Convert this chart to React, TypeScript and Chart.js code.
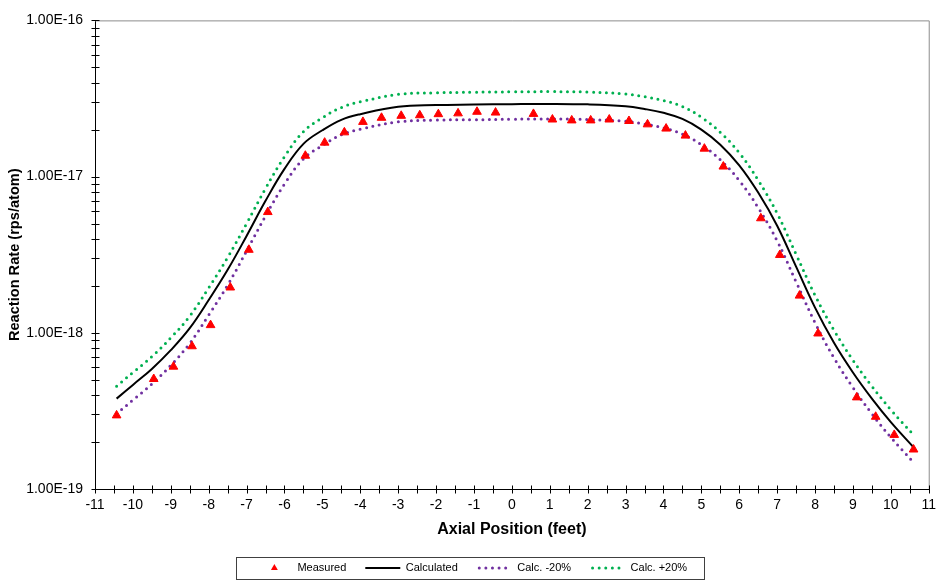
import { useEffect, useRef } from 'react';
import { Chart, registerables } from 'chart.js';

Chart.register(...registerables);

// ---- data ----
const MEASURED_X = [-10.43, -9.45, -8.93, -8.44, -7.95, -7.43, -6.94, -6.44, -5.45, -4.94, -4.42, -3.93, -3.44, -2.92, -2.43, -1.94, -1.42, -0.92, -0.43, 0.57, 1.07, 1.58, 2.08, 2.57, 3.09, 3.58, 4.07, 4.58, 5.08, 5.58, 6.57, 7.07, 7.59, 8.08, 9.1, 9.6, 10.09, 10.6];
const MEASURED_Y = [2.96e-19, 5.06e-19, 6.07e-19, 8.2e-19, 1.12e-18, 1.95e-18, 3.4e-18, 5.93e-18, 1.36e-17, 1.65e-17, 1.92e-17, 2.24e-17, 2.38e-17, 2.45e-17, 2.47e-17, 2.51e-17, 2.54e-17, 2.6e-17, 2.57e-17, 2.52e-17, 2.32e-17, 2.29e-17, 2.29e-17, 2.32e-17, 2.27e-17, 2.16e-17, 2.03e-17, 1.83e-17, 1.51e-17, 1.16e-17, 5.41e-18, 3.15e-18, 1.73e-18, 9.9e-19, 3.86e-19, 2.9e-19, 2.22e-19, 1.79e-19];

const CALC_X = [-10.43, -10, -9.5, -9, -8.5, -8, -7.5, -7, -6.5, -6, -5.5, -5, -4.5, -4, -3, -2, -1, 0, 1, 2, 3, 3.5, 4, 4.5, 5, 5.5, 6, 6.5, 7, 7.5, 8, 8.5, 9, 9.5, 10, 10.6];
const CALC_Y = [3.79e-19, 4.64e-19, 5.87e-19, 7.74e-19, 1.07e-18, 1.62e-18, 2.53e-18, 4.17e-18, 7.0e-18, 1.12e-17, 1.62e-17, 1.98e-17, 2.31e-17, 2.51e-17, 2.8e-17, 2.87e-17, 2.89e-17, 2.91e-17, 2.92e-17, 2.9e-17, 2.82e-17, 2.71e-17, 2.56e-17, 2.34e-17, 2.0e-17, 1.6e-17, 1.18e-17, 7.9e-18, 4.85e-18, 2.65e-18, 1.45e-18, 8.63e-19, 5.57e-19, 3.79e-19, 2.68e-19, 1.85e-19];
const MINUS20_Y = [3.03e-19, 3.71e-19, 4.7e-19, 6.19e-19, 8.56e-19, 1.3e-18, 2.02e-18, 3.34e-18, 5.6e-18, 8.96e-18, 1.3e-17, 1.58e-17, 1.85e-17, 2.01e-17, 2.24e-17, 2.3e-17, 2.31e-17, 2.33e-17, 2.34e-17, 2.32e-17, 2.26e-17, 2.17e-17, 2.05e-17, 1.87e-17, 1.6e-17, 1.28e-17, 9.44e-18, 6.32e-18, 3.88e-18, 2.12e-18, 1.16e-18, 6.9e-19, 4.46e-19, 3.03e-19, 2.14e-19, 1.48e-19];
const PLUS20_Y = [4.55e-19, 5.57e-19, 7.04e-19, 9.29e-19, 1.28e-18, 1.94e-18, 3.04e-18, 5.0e-18, 8.4e-18, 1.34e-17, 1.94e-17, 2.38e-17, 2.77e-17, 3.01e-17, 3.36e-17, 3.44e-17, 3.47e-17, 3.49e-17, 3.5e-17, 3.48e-17, 3.38e-17, 3.25e-17, 3.07e-17, 2.81e-17, 2.4e-17, 1.92e-17, 1.42e-17, 9.48e-18, 5.82e-18, 3.18e-18, 1.74e-18, 1.04e-18, 6.68e-19, 4.55e-19, 3.22e-19, 2.22e-19];

const SERIES_NAMES = ['Measured', 'Calculated', 'Calc. -20%', 'Calc. +20%'];
const SERIES_COLORS = ['#ff0000', '#000000', '#7030a0', '#00b050'];

const X_TICK_VALUES = [-11, -10.5, -10, -9.5, -9, -8.5, -8, -7.5, -7, -6.5, -6, -5.5, -5, -4.5, -4, -3.5, -3, -2.5, -2, -1.5, -1, -0.5, 0, 0.5, 1, 1.5, 2, 2.5, 3, 3.5, 4, 4.5, 5, 5.5, 6, 6.5, 7, 7.5, 8, 8.5, 9, 9.5, 10, 10.5, 11];
const X_TICK_LABELS = ['-11', '-10', '-9', '-8', '-7', '-6', '-5', '-4', '-3', '-2', '-1', '0', '1', '2', '3', '4', '5', '6', '7', '8', '9', '10', '11'];
const Y_DECADES = [1e-19, 1e-18, 1e-17, 1e-16];
const Y_TICK_LABELS = ['1.00E-19', '1.00E-18', '1.00E-17', '1.00E-16'];
const Y_MINOR_MULTIPLIERS = [2, 3, 4, 5, 6, 7, 8, 9];

const SANS = "'Liberation Sans', Arial, sans-serif";

function pts(xs: number[], ys: number[]) {
  return xs.map((x, i) => ({ x, y: ys[i] }));
}

export default function App() {
  const ref = useRef<HTMLCanvasElement>(null);

  useEffect(() => {
    const canvas = ref.current;
    if (!canvas) return;

    const framePlugin = {
      id: 'frame',
      beforeDatasetsDraw(chart: any) {
        const { ctx, chartArea } = chart;
        ctx.save();
        ctx.strokeStyle = '#8c8c8c';
        ctx.lineWidth = 1;
        ctx.beginPath();
        ctx.moveTo(chartArea.left, chartArea.top + 0.5);
        ctx.lineTo(chartArea.right + 0.5, chartArea.top + 0.5);
        ctx.lineTo(chartArea.right + 0.5, chartArea.bottom);
        ctx.stroke();
        ctx.restore();
      },
      afterDraw(chart: any) {
        const { ctx, chartArea } = chart;
        const xs = chart.scales.x;
        const ys = chart.scales.y;
        ctx.save();
        ctx.strokeStyle = '#000';
        ctx.lineWidth = 1;
        ctx.beginPath();
        const ax = Math.round(chartArea.left) + 0.5;
        ys.ticks.forEach((t: any) => {
          const py = Math.round(ys.getPixelForValue(t.value)) + 0.5;
          ctx.moveTo(ax - 4, py);
          ctx.lineTo(ax + 4, py);
        });
        const ay = Math.round(chartArea.bottom) + 0.5;
        xs.ticks.forEach((t: any) => {
          const px = Math.round(xs.getPixelForValue(t.value)) + 0.5;
          ctx.moveTo(px, ay - 4);
          ctx.lineTo(px, ay + 4);
        });
        ctx.stroke();

        // legend symbols + border
        const lg = chart.legend;
        if (lg && lg.legendHitBoxes && lg.legendHitBoxes.length) {
          const hb = lg.legendHitBoxes;
          const symW = 35;
          hb.forEach((b: any, i: number) => {
            const cy = b.top + b.height / 2;
            const color = SERIES_COLORS[i];
            if (i === 0) {
              const cx = b.left + symW / 2;
              const r = 4;
              ctx.fillStyle = color;
              ctx.beginPath();
              ctx.moveTo(cx, cy - r);
              ctx.lineTo(cx + r * 0.866, cy + r * 0.5);
              ctx.lineTo(cx - r * 0.866, cy + r * 0.5);
              ctx.closePath();
              ctx.fill();
            } else if (i === 1) {
              ctx.strokeStyle = color;
              ctx.lineWidth = 2;
              ctx.setLineDash([]);
              ctx.beginPath();
              ctx.moveTo(b.left, cy);
              ctx.lineTo(b.left + symW, cy);
              ctx.stroke();
            } else {
              ctx.strokeStyle = color;
              ctx.lineWidth = 3;
              ctx.lineCap = 'round';
              ctx.setLineDash([0, 6.6]);
              ctx.beginPath();
              ctx.moveTo(b.left + 2.5, cy);
              ctx.lineTo(b.left + symW, cy);
              ctx.stroke();
              ctx.setLineDash([]);
              ctx.lineCap = 'butt';
            }
          });
          const first = hb[0];
          const last = hb[hb.length - 1];
          const cy = first.top + first.height / 2;
          const x0 = Math.round(first.left - 21) + 0.5;
          const x1 = Math.round(last.left + last.width + 17) + 0.5;
          const y0 = Math.round(cy - 11) + 0.5;
          const y1 = Math.round(cy + 11) + 0.5;
          ctx.strokeStyle = '#404040';
          ctx.lineWidth = 1;
          ctx.strokeRect(x0, y0, x1 - x0, y1 - y0);
        }
        ctx.restore();
      },
    };

    const chart = new Chart(canvas, {
      type: 'line',
      data: {
        datasets: [
          {
            label: SERIES_NAMES[0],
            data: pts(MEASURED_X, MEASURED_Y),
            showLine: false,
            pointStyle: 'triangle',
            pointRadius: 5,
            pointHoverRadius: 5,
            backgroundColor: SERIES_COLORS[0],
            borderColor: SERIES_COLORS[0],
            borderWidth: 1,
          },
          {
            label: SERIES_NAMES[1],
            data: pts(CALC_X, CALC_Y),
            borderColor: SERIES_COLORS[1],
            backgroundColor: SERIES_COLORS[1],
            borderWidth: 2,
            pointRadius: 0,
            tension: 0.4,
          },
          {
            label: SERIES_NAMES[2],
            data: pts(CALC_X, MINUS20_Y),
            borderColor: SERIES_COLORS[2],
            backgroundColor: SERIES_COLORS[2],
            borderWidth: 3,
            borderDash: [0, 6.5],
            borderCapStyle: 'round',
            pointRadius: 0,
            tension: 0.4,
          },
          {
            label: SERIES_NAMES[3],
            data: pts(CALC_X, PLUS20_Y),
            borderColor: SERIES_COLORS[3],
            backgroundColor: SERIES_COLORS[3],
            borderWidth: 3,
            borderDash: [0, 6.5],
            borderCapStyle: 'round',
            pointRadius: 0,
            tension: 0.4,
          },
        ],
      },
      options: {
        responsive: false,
        animation: false,
        devicePixelRatio: 1,
        layout: { padding: { top: 13, right: 11, bottom: -2.5, left: 11 } },
        plugins: {
          tooltip: { enabled: false },
          legend: {
            position: 'bottom',
            labels: {
              usePointStyle: false,
              boxWidth: 35,
              boxHeight: 5,
              padding: 19,
              color: '#000',
              font: { family: SANS, size: 11 },
              generateLabels: (ch: any) =>
                Chart.defaults.plugins.legend.labels.generateLabels(ch).map((it: any) => ({
                  ...it,
                  fillStyle: 'rgba(0,0,0,0)',
                  strokeStyle: 'rgba(0,0,0,0)',
                  lineWidth: 0,
                })),
            },
          },
        },
        scales: {
          x: {
            type: 'linear',
            min: -11,
            max: 11,
            afterBuildTicks: (scale: any) => {
              scale.ticks = X_TICK_VALUES.map((v) => ({ value: v }));
            },
            afterFit: (scale: any) => {
              scale.height = 54.5;
            },
            ticks: {
              autoSkip: false,
              maxRotation: 0,
              minRotation: 0,
              padding: 8,
              color: '#000',
              font: { family: SANS, size: 14 },
              callback: (value: any) => {
                const idx = Number(value) + 11;
                return Number.isInteger(Number(value)) ? X_TICK_LABELS[idx] : '';
              },
            },
            grid: { display: false, drawTicks: false },
            border: { display: true, color: '#000', width: 1 },
            title: {
              display: true,
              text: 'Axial Position (feet)',
              color: '#000',
              font: { family: SANS, size: 16, weight: 'bold' },
              padding: { top: 0, bottom: 4 },
            },
          },
          y: {
            type: 'logarithmic',
            min: 1e-19,
            max: 1e-16,
            afterBuildTicks: (scale: any) => {
              const t: any[] = [];
              Y_DECADES.forEach((d, i) => {
                t.push({ value: d, major: true });
                if (i < Y_DECADES.length - 1) {
                  Y_MINOR_MULTIPLIERS.forEach((m) => t.push({ value: d * m, major: false }));
                }
              });
              scale.ticks = t;
            },
            afterFit: (scale: any) => {
              scale.width = 84;
            },
            ticks: {
              autoSkip: false,
              padding: 12,
              color: '#000',
              font: { family: SANS, size: 14 },
              callback: (value: any) => {
                const v = Number(value);
                const i = Y_DECADES.findIndex((d) => Math.abs(v / d - 1) < 1e-6);
                return i >= 0 ? Y_TICK_LABELS[i] : '';
              },
            },
            grid: { display: false, drawTicks: false },
            border: { display: true, color: '#000', width: 1 },
            title: {
              display: true,
              text: 'Reaction Rate (rps/atom)',
              color: '#000',
              font: { family: SANS, size: 14.6, weight: 'bold' },
              padding: { top: -4.8, bottom: 0 },
            },
          },
        },
      },
      plugins: [framePlugin],
    } as any);

    return () => chart.destroy();
  }, []);

  return (
    <div style={{ position: 'absolute', left: 0, top: 0, width: 944, height: 581, background: '#fff' }}>
      <canvas ref={ref} width={944} height={581} style={{ display: 'block' }} />
    </div>
  );
}
